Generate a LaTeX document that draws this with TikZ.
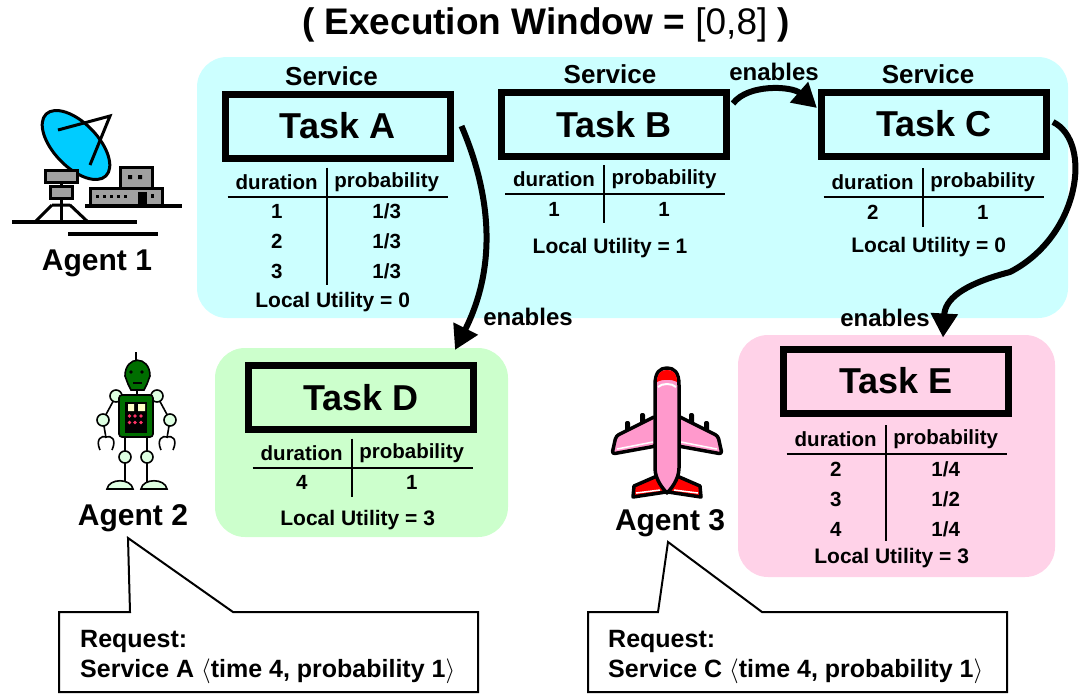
\documentclass[tikz,border=0pt]{standalone}
\usepackage{fontspec}
\setmainfont{Liberation Sans}
\usetikzlibrary{arrows.meta,positioning}

\definecolor{svcblue}{RGB}{204,255,255}
\definecolor{svcgreen}{RGB}{204,255,204}
\definecolor{svcpink}{RGB}{255,210,232}
\definecolor{dishblue}{RGB}{0,204,255}
\definecolor{dishgray}{RGB}{160,160,160}
\definecolor{robogreen}{RGB}{0,110,0}
\definecolor{robopale}{RGB}{222,255,226}
\definecolor{roboyellow}{RGB}{255,255,200}
\definecolor{robored}{RGB}{255,51,102}
\definecolor{planepink}{RGB}{255,153,204}
\definecolor{planered}{RGB}{255,0,0}

\tikzset{
  region/.style={rounded corners=30pt},
  taskbox/.style={draw, line width=7pt, minimum width=225pt, minimum height=64pt,
    inner sep=0pt, font=\fontsize{36}{40}\selectfont\bfseries},
  svc/.style={inner sep=0pt, font=\fontsize{26}{28}\selectfont\bfseries},
  cell/.style={inner sep=0pt, font=\fontsize{20.5}{22}\selectfont\bfseries},
  util/.style={inner sep=0pt, font=\fontsize{21}{23}\selectfont\bfseries},
  rule/.style={line width=2pt},
  enable/.style={line width=6pt, -{Triangle[length=24pt,width=26pt]}},
  tag/.style={inner sep=0pt, font=\fontsize{24}{26}\selectfont\bfseries},
  agent/.style={inner sep=0pt, font=\fontsize{30}{32}\selectfont\bfseries},
  req/.style={inner sep=0pt, align=left, font=\fontsize{25}{30}\selectfont\bfseries},
  callout/.style={draw, line width=2pt, fill=white},
}

% duration/probability table, origin where the divider meets the rule
\newcommand{\probtable}[6]{%
  \begin{scope}[shift={#2}]
    \node[cell] (#1hd) at (-50,-15) {duration};
    \node[cell] (#1hp) at (60,-15) {probability};
    \draw[rule] (-99,0) -- (121,0);
    \draw[rule] (0,-29) -- (0,#4);
    \foreach \d/\p [count=\i] in {#3} {
      \node[cell] (#1d\i) at (-50,30*\i-15) {\d};
      \node[cell] (#1p\i) at (60,30*\i-15) {\p};
    }
    \node[util] (#1lu) at (6,#6) {Local Utility = #5};
  \end{scope}}

\begin{document}
\begin{tikzpicture}[x=1pt,y=-1pt]
  \useasboundingbox (0,0) rectangle (1081,694);

  \node[font=\fontsize{37}{40}\selectfont\bfseries] (title) at (546,25)
    {( Execution Window = \textmd{[0,8]} )};

  % service regions
  \fill[svcblue, region] (197,57) rectangle (1068,318);
  \fill[svcgreen, region] (215,348) rectangle (508,537);
  \fill[svcpink, region] (738,335) rectangle (1055,577);

  \node[taskbox] (taskA) at (337.5,126) {Task A};
  \node[taskbox] (taskB) at (614,124.5) {Task B};
  \node[taskbox] (taskC) at (934,124) {Task C};
  \node[taskbox] (taskD) at (361,397.5) {Task D};
  \node[taskbox] (taskE) at (896,381) {Task E};

  \node[svc, above=5pt of taskA, xshift=-6pt] (svcA) {Service};
  \node[svc, above=5pt of taskB, xshift=-4pt] (svcB) {Service};
  \node[svc, above=5pt of taskC, xshift=-6pt] (svcC) {Service};

  \probtable{tA}{(326.7,196.7)}{1/{1/3}, 2/{1/3}, 3/{1/3}}{88}{0}{105}
  \probtable{tB}{(604,194)}{1/1}{29}{1}{54}
  \probtable{tC}{(922.7,197)}{2/1}{30}{0}{50}
  \probtable{tD}{(351.7,467.7)}{4/1}{29}{3}{52}
  \probtable{tE}{(885.7,454)}{2/{1/4}, 3/{1/2}, 4/{1/4}}{87}{3}{104}

  % enables links
  \coordinate (cbend) at (1010,272);
  \draw[enable] ([xshift=8pt]taskA.east) .. controls +(32,75) and +(40,-80)
    .. ([shift={(-22,-12)}]taskD.north east);
  \draw[enable] ([shift={(3,-21)}]taskB.east) .. controls +(15,-20) and +(-25,-22)
    .. ([shift={(-1,-16)}]taskC.west);
  \draw[enable] ([shift={(3,-2)}]taskC.east) .. controls +(40,20) and +(70,-36) .. (cbend)
    .. controls +(-50,13) and +(2,-37) .. ([shift={(47,-8)}]taskE.north);
  \node[tag] (enAD) at (528,317) {enables};
  \node[tag] (enBC) at (774,72) {enables};
  \node[tag] (enCE) at (885,318) {enables};

  % agent 1: dish station
  \begin{scope}[shift={(0,80)}, line width=3pt]
    \draw[fill=dishblue, rotate around={-46:(76,65)}] (76,65) ellipse[x radius=43, y radius=22];
    \draw (58,50) -- (110,36) -- (90,85);
    \draw (61,100) -- (61,142);
    \draw (52,125) -- (35,142) (70,125) -- (88,142) (52,125) -- (70,125);
    \draw[fill=dishgray] (45,90) rectangle (77,102);
    \draw[fill=dishgray] (50,106) rectangle (72,118);
    \draw[line width=4pt] (12,142) -- (137,142);
    \draw[line width=4pt] (68,154) -- (158,154);
    \draw[line width=4pt] (85,126) -- (182,126);
    \draw[fill=dishgray] (120,87) rectangle (152,108);
    \draw[fill=dishgray] (90,108) rectangle (162,125);
    \fill (128,95) rectangle (132,99) (138,95) rectangle (142,99);
    \foreach \x in {96,103,110,117,124}
      \fill (\x,115) rectangle (\x+3,118);
    \fill (138,112) rectangle (147,125);
    \fill (151,114) rectangle (154,118);
  \end{scope}
  \node[agent] (agent1) at (97,263) {Agent 1};

  % agent 2: robot
  \begin{scope}[shift={(80,340)}, line width=1.6pt]
    \draw (56,12) -- (56,20);
    \draw[fill=robogreen] (45,36) .. controls (45,15) and (70,15) .. (70,36)
      -- (67,44) -- (64,50) -- (51,50) -- (48,44) -- cycle;
    \fill (51,32) circle[radius=1.8] (62,32) circle[radius=1.8];
    \draw (53,43) -- (62,43);
    \draw (57,50) -- (57,55);
    \draw (36,56) -- (23,80) -- (26,98) (77,56) -- (90,80) -- (87,98);
    \draw (20,110) .. controls (15,99) and (22,95) .. (26,97) .. controls (31,95) and (37,99) .. (32,110);
    \draw (81,110) .. controls (76,99) and (83,95) .. (87,97) .. controls (92,95) and (98,99) .. (93,110);
    \draw[fill=robopale] (36,56) circle[radius=6] (77,56) circle[radius=6]
      (23,80) circle[radius=6] (90,80) circle[radius=6];
    \draw (45,97) -- (45,143) (67,97) -- (67,143);
    \draw[fill=robopale] (45,117) circle[radius=6] (67,117) circle[radius=6];
    \draw[fill=robopale] (27,149) .. controls (29,138) and (51,138) .. (53,149) -- cycle;
    \draw[fill=robopale] (61,149) .. controls (63,138) and (85,138) .. (87,149) -- cycle;
    \draw[fill=robogreen, rounded corners=3pt] (39,55) rectangle (73,97);
    \fill (45,62) rectangle (67,93);
    \fill[roboyellow] (48,64) rectangle (54,71) (58,64) rectangle (65,71);
    \foreach \x in {49.5,55,61}
      \foreach \y in {76,82.5}
        \fill[robored] (\x,\y) circle[radius=1.8];
  \end{scope}
  \node[agent] (agent2) at (133,518) {Agent 2};

  % agent 3: airplane
  \begin{scope}[shift={(590,350)}, line width=3.5pt, line join=round]
    \draw[fill=planered] (67,126) -- (44,136) -- (43,147) -- (76,142) -- cycle;
    \draw[fill=planered] (87,126) -- (110,136) -- (111,147) -- (78,142) -- cycle;
    \draw[white, line width=1.5pt] (46,143) -- (70,140) (108,143) -- (84,140);
    \foreach \x/\y in {35/71, 50/63, 114/71, 99/63}
      \fill[rounded corners=2pt] (\x,\y) rectangle (\x+5,\y+12);
    \draw[fill=planepink, rounded corners=3pt] (66,66) -- (26,86) -- (22,104) -- (66,96) -- cycle;
    \draw[fill=planepink, rounded corners=3pt] (88,66) -- (128,86) -- (132,104) -- (88,96) -- cycle;
    \draw[white, line width=1.5pt] (27,99) -- (63,92) (127,99) -- (91,92);
    \draw[fill=planepink] (65,35) .. controls (65,22) and (70,18) .. (77,18)
      .. controls (84,18) and (89,22) .. (89,35) -- (89,118)
      .. controls (89,130) and (80,140) .. (77,143)
      .. controls (74,140) and (65,130) .. (65,118) -- cycle;
    \fill[planered] (67,32) .. controls (67,23) and (71,20) .. (77,20)
      .. controls (83,20) and (87,23) .. (87,32) .. controls (82,29) and (72,29) .. (67,32) -- cycle;
    \draw[white, line width=2pt] (68,37) .. controls (72,33) and (82,33) .. (86,37);
  \end{scope}
  \node[agent] (agent3) at (670,523) {Agent 3};

  % requests
  \draw[callout] (59,612) -- (130,612) -- (128,538) -- (233,612) -- (478,612)
    -- (478,692) -- (59,692) -- cycle;
  \node[req, anchor=west] (req2) at (80,657)
    {Request:\\Service A $\langle$time 4, probability 1$\rangle$};
  \draw[callout] (588,612) -- (658,612) -- (668,542) -- (762,612) -- (1007,612)
    -- (1007,692) -- (588,692) -- cycle;
  \node[req, anchor=west] (req3) at (608,657)
    {Request:\\Service C $\langle$time 4, probability 1$\rangle$};
\end{tikzpicture}
\end{document}
